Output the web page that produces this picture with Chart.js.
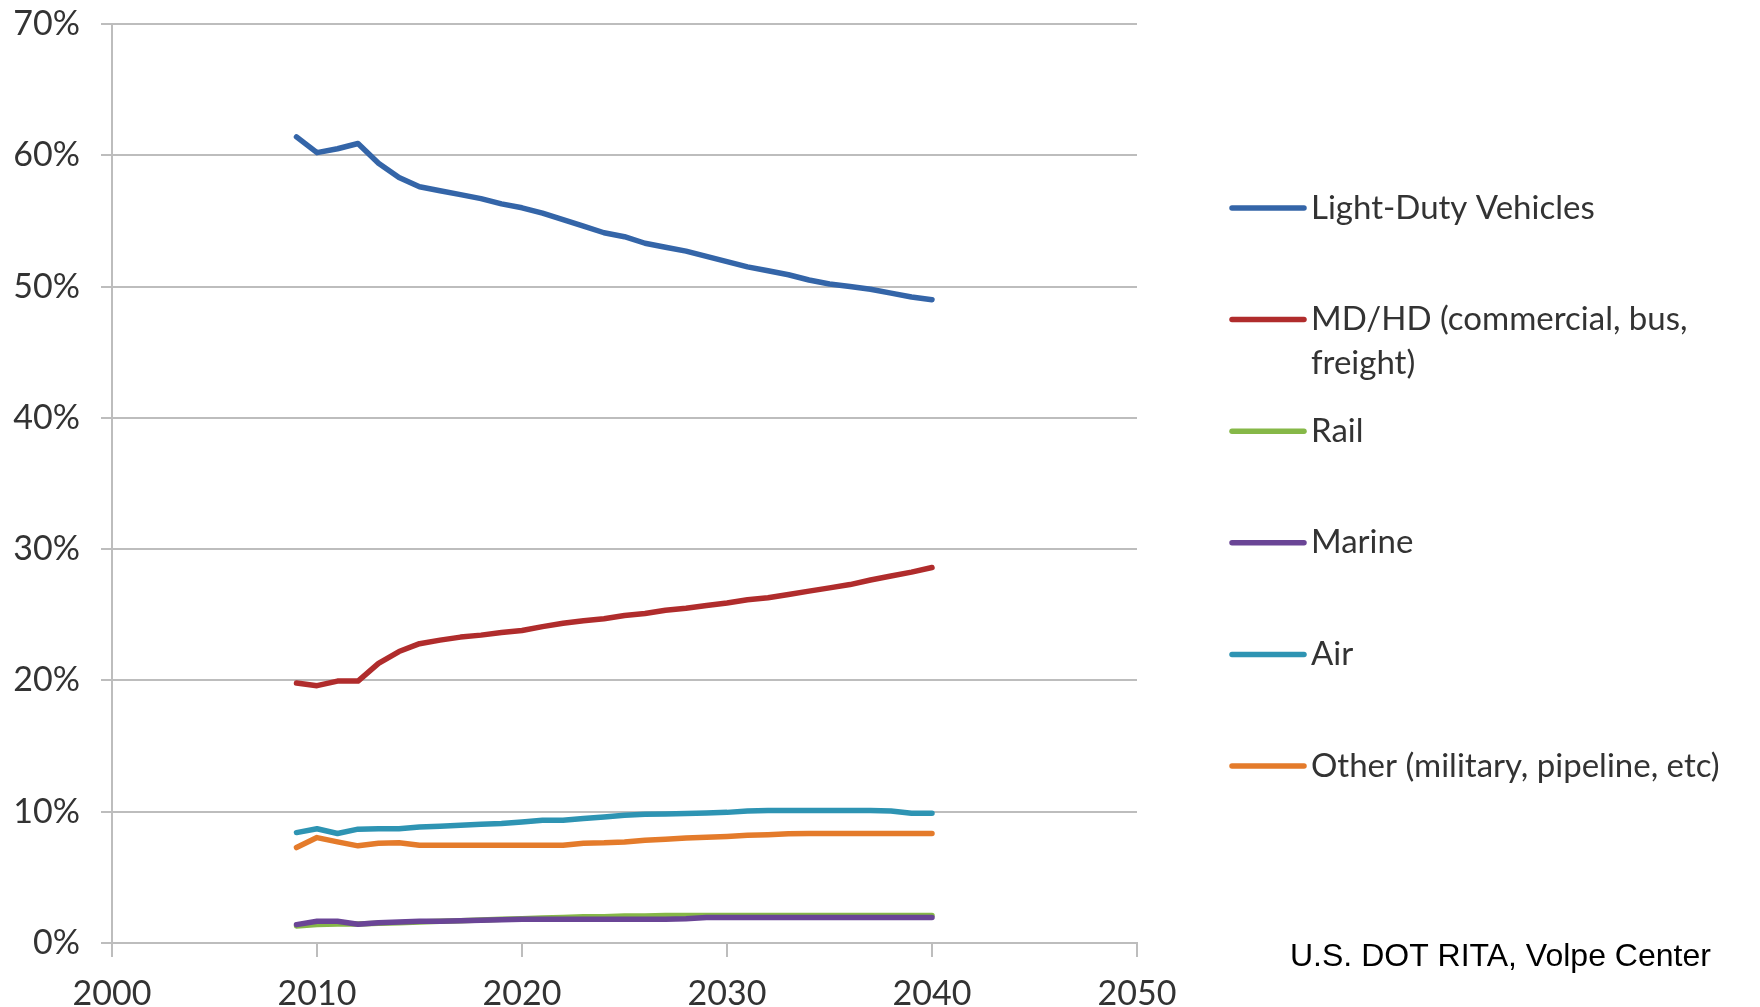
<!DOCTYPE html>
<html>
<head>
<meta charset="utf-8">
<script src="https://cdn.jsdelivr.net/npm/chart.js@4/dist/chart.umd.min.js"></script>
<style>
  html, body { margin: 0; padding: 0; background: #ffffff; }
  #wrap { width: 1760px; height: 1007px; }
</style>
</head>
<body>
<div id="wrap"><canvas id="chart" width="1760" height="1007"></canvas></div>
<script>
// Share of transportation energy use by mode, 2009-2040 (percent)
const years = [2009, 2010, 2011, 2012, 2013, 2014, 2015, 2016, 2017, 2018,
               2019, 2020, 2021, 2022, 2023, 2024, 2025, 2026, 2027, 2028,
               2029, 2030, 2031, 2032, 2033, 2034, 2035, 2036, 2037, 2038,
               2039, 2040];

const lightDuty = [61.4, 60.2, 60.5, 60.9, 59.4, 58.3, 57.6, 57.3, 57.0, 56.7,
                   56.3, 56.0, 55.6, 55.1, 54.6, 54.1, 53.8, 53.3, 53.0, 52.7,
                   52.3, 51.9, 51.5, 51.2, 50.9, 50.5, 50.2, 50.0, 49.8, 49.5,
                   49.2, 49.0];
const mdhd = [19.8, 19.6, 19.95, 19.95, 21.3, 22.2, 22.8, 23.07, 23.3, 23.45,
              23.65, 23.8, 24.1, 24.35, 24.55, 24.7, 24.95, 25.1, 25.35, 25.5,
              25.7, 25.9, 26.15, 26.3, 26.55, 26.8, 27.05, 27.3, 27.65, 27.95,
              28.25, 28.6];
const rail = [1.3, 1.4, 1.45, 1.45, 1.5, 1.55, 1.6, 1.65, 1.7, 1.75,
              1.8, 1.85, 1.9, 1.95, 2.0, 2.0, 2.05, 2.05, 2.1, 2.1,
              2.1, 2.1, 2.1, 2.1, 2.1, 2.1, 2.1, 2.1, 2.1, 2.1,
              2.1, 2.1];
const marine = [1.4, 1.65, 1.65, 1.43, 1.55, 1.6, 1.65, 1.65, 1.7, 1.73,
                1.77, 1.8, 1.8, 1.8, 1.8, 1.8, 1.8, 1.8, 1.8, 1.85,
                1.95, 1.95, 1.95, 1.95, 1.95, 1.95, 1.95, 1.95, 1.95, 1.95,
                1.95, 1.95];
const air = [8.41, 8.7, 8.34, 8.67, 8.7, 8.7, 8.84, 8.9, 8.97, 9.05,
             9.1, 9.22, 9.35, 9.35, 9.48, 9.6, 9.73, 9.8, 9.83, 9.86,
             9.9, 9.95, 10.05, 10.1, 10.1, 10.1, 10.1, 10.1, 10.1, 10.05,
             9.88, 9.88];
const other = [7.27, 8.03, 7.7, 7.4, 7.6, 7.63, 7.45, 7.45, 7.45, 7.45,
               7.45, 7.45, 7.45, 7.45, 7.6, 7.63, 7.7, 7.83, 7.9, 8.0,
               8.05, 8.12, 8.2, 8.25, 8.33, 8.35, 8.35, 8.35, 8.35, 8.35,
               8.35, 8.35];

const seriesNames = ['Light-Duty Vehicles', 'MD/HD (commercial, bus,\nfreight)', 'Rail',
                     'Marine', 'Air', 'Other (military, pipeline, etc)'];
const seriesValues = [lightDuty, mdhd, rail, marine, air, other];
const seriesColors = ['#3465a8', '#b02c2c', '#86b848', '#6a4596', '#2e94b3', '#e47b2b'];

const xTickValues = [2000, 2010, 2020, 2030, 2040, 2050];
const yTickValues = [0, 10, 20, 30, 40, 50, 60, 70];
const sourceNote = 'U.S. DOT RITA, Volpe Center';

const AXIS_FONT = { family: 'Lato, "Open Sans", sans-serif', size: 34 };
const TEXT_COLOR = '#333333';
const GRID_COLOR = '#bdbdbd';
const LINE_WIDTH = 5.5;

const datasets = seriesValues.map((vals, i) => ({
  label: seriesNames[i],
  data: vals.map((v, j) => ({ x: years[j], y: v })),
  borderColor: seriesColors[i],
  backgroundColor: seriesColors[i],
  borderWidth: LINE_WIDTH,
  borderCapStyle: 'round',
  borderJoinStyle: 'round',
  pointRadius: 0,
  tension: 0,
  fill: false,
  order: seriesValues.length - i  // later series painted on top
}));

// Side legend plus source credit, painted after the chart
const sideLegend = {
  id: 'sideLegend',
  afterDraw(chart) {
    const ctx = chart.ctx;
    const lineX0 = 1232, lineX1 = 1304, textX = 1311;
    const top = 208, step = 111.6, lineGap = 43.5;
    ctx.save();
    ctx.font = '33px Lato, "Open Sans", sans-serif';
    ctx.textBaseline = 'middle';
    ctx.textAlign = 'left';
    chart.data.datasets.forEach((ds, i) => {
      const y = top + i * step;
      ctx.strokeStyle = ds.borderColor;
      ctx.lineWidth = LINE_WIDTH;
      ctx.lineCap = 'round';
      ctx.beginPath();
      ctx.moveTo(lineX0, y);
      ctx.lineTo(lineX1, y);
      ctx.stroke();
      ctx.fillStyle = TEXT_COLOR;
      ds.label.split('\n').forEach((part, k) => {
        ctx.fillText(part, textX, y + k * lineGap);
      });
    });
    ctx.font = '32px "Liberation Sans", Arial, sans-serif';
    ctx.fillStyle = '#000000';
    ctx.fillText(sourceNote, 1290, 957);
    ctx.restore();
  }
};

new Chart(document.getElementById('chart'), {
  type: 'line',
  data: { datasets },
  options: {
    responsive: false,
    animation: false,
    devicePixelRatio: 1,
    layout: { padding: { left: 0, right: 623, top: 24, bottom: 0 } },
    plugins: { legend: { display: false }, tooltip: { enabled: false } },
    scales: {
      x: {
        type: 'linear',
        min: 2000,
        max: 2050,
        afterBuildTicks(scale) { scale.ticks = xTickValues.map(v => ({ value: v })); },
        afterFit(scale) { scale.height = 64; },
        ticks: {
          font: AXIS_FONT,
          color: TEXT_COLOR,
          padding: 17,
          maxRotation: 0,
          callback: v => String(v)
        },
        grid: {
          drawOnChartArea: false,
          drawTicks: true,
          tickLength: 14,
          tickWidth: 2,
          tickColor: GRID_COLOR,
          color: GRID_COLOR,
          lineWidth: 2
        },
        border: { display: true, color: GRID_COLOR, width: 2 }
      },
      y: {
        min: 0,
        max: 70,
        afterBuildTicks(scale) { scale.ticks = yTickValues.map(v => ({ value: v })); },
        afterFit(scale) {
          scale.width = 112;
          // labels overhang the plot edges; keep the plot edges fixed anyway
          scale.paddingTop = 0;
          scale.paddingBottom = 0;
        },
        ticks: {
          font: AXIS_FONT,
          color: TEXT_COLOR,
          padding: 21,
          callback: v => v + '%'
        },
        grid: {
          drawOnChartArea: true,
          drawTicks: true,
          tickLength: 11,
          color: GRID_COLOR,
          lineWidth: 2
        },
        border: { display: true, color: GRID_COLOR, width: 2 }
      }
    }
  },
  plugins: [sideLegend]
});
</script>
</body>
</html>
